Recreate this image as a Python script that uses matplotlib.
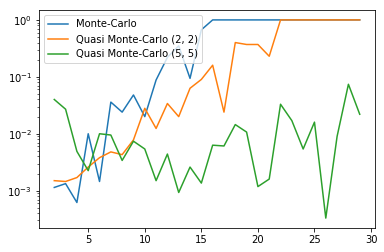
import matplotlib
matplotlib.use("Agg")
import matplotlib.pyplot as plt

x = list(range(2, 30))

monte_carlo = [1.14e-3, 1.33e-3, 6.2e-4, 1.0e-2, 1.45e-3, 0.036, 0.024, 0.048,
               0.020, 0.088, 0.22, 0.35, 0.094, 0.67, 1.0, 1.0, 1.0, 1.0, 1.0,
               1.0, 1.0, 1.0, 1.0, 1.0, 1.0, 1.0, 1.0, 1.0]
quasi_22 = [1.5e-3, 1.45e-3, 1.7e-3, 2.6e-3, 3.8e-3, 4.8e-3, 4.3e-3, 7.8e-3,
            0.028, 0.0124, 0.034, 0.020, 0.063, 0.09, 0.16, 0.024, 0.40, 0.37,
            0.37, 0.23, 1.0, 1.0, 1.0, 1.0, 1.0, 1.0, 1.0, 1.0]
quasi_55 = [0.040, 0.027, 4.9e-3, 2.25e-3, 1.0e-2, 9.5e-3, 3.4e-3, 7.4e-3,
            5.4e-3, 1.5e-3, 4.4e-3, 9.3e-4, 2.6e-3, 1.36e-3, 6.3e-3, 6.1e-3,
            0.0145, 0.0107, 1.18e-3, 1.6e-3, 0.033, 0.017, 5.4e-3, 0.016,
            3.3e-4, 9.0e-3, 0.074, 0.022]

labels = ["Monte-Carlo", "Quasi Monte-Carlo (2, 2)", "Quasi Monte-Carlo (5, 5)"]

fig = plt.figure(figsize=(384 / 72, 252 / 72), dpi=72)
ax = fig.add_axes([39 / 384, 1 - 228 / 252, (375 - 39) / 384, (228 - 10) / 252])
ax.plot(x, monte_carlo, label=labels[0])
ax.plot(x, quasi_22, label=labels[1])
ax.plot(x, quasi_55, label=labels[2])
ax.set_yscale("log")
ax.legend(loc="upper left")
fig.savefig("out.png", dpi=72)
